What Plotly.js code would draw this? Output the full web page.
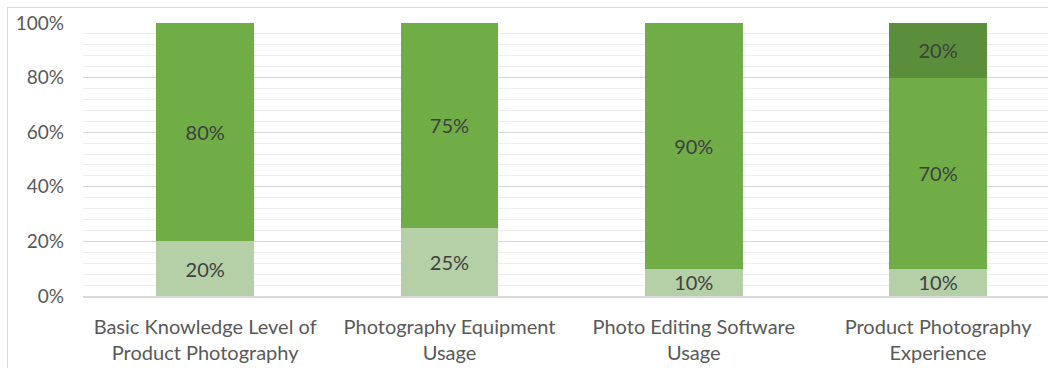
<!DOCTYPE html>
<html>
<head>
<meta charset="utf-8">
<script src="https://cdn.plot.ly/plotly-3.0.1.min.js"></script>
<style>
  html, body { margin: 0; padding: 0; background: #fff; overflow: hidden; }
  #chart { width: 1048px; height: 374px; position: relative; }
  #frame { position: absolute; left: 7px; top: 7px; width: 1100px; height: 360px;
           border-left: 1px solid #d9d9d9; border-top: 1px solid #d9d9d9; pointer-events: none; }
</style>
</head>
<body>
<div id="chart"></div>
<div id="frame"></div>
<script>
const categories = [
  "Basic Knowledge Level of<br>Product Photography",
  "Photography Equipment<br>Usage",
  "Photo Editing Software<br>Usage",
  "Product Photography<br>Experience"
];
const seriesLow = [20, 25, 10, 10];
const seriesMid = [80, 75, 90, 70];
const seriesHigh = [null, null, null, 20];

const colors = ["#b5d0a7", "#70ad47", "#5a8e3a"];
const common = {
  type: "bar",
  x: categories,
  texttemplate: "%{y}",
  textposition: "inside",
  insidetextanchor: "middle",
  constraintext: "none",
  textfont: { family: "Lato, 'Open Sans', sans-serif", size: 20, color: "#404040" },
  hoverinfo: "none",
  cliponaxis: false
};
const data = [
  Object.assign({}, common, { y: seriesLow, marker: { color: colors[0] }, name: "Low" }),
  Object.assign({}, common, { y: seriesMid, marker: { color: colors[1] }, name: "Mid" }),
  Object.assign({}, common, { y: seriesHigh, marker: { color: colors[2] }, name: "High" })
];

const layout = {
  width: 1048, height: 374,
  margin: { l: 83, r: 0, t: 23, b: 78, pad: 0 },
  barmode: "stack",
  bargap: 0.6,
  showlegend: false,
  paper_bgcolor: "#fff",
  plot_bgcolor: "#fff",
  font: { family: "Lato, 'Open Sans', sans-serif", color: "#595959" },
  xaxis: {
    type: "category",
    range: [-0.5, 3.45],
    showgrid: false,
    showline: true,
    linecolor: "#d9d9d9",
    linewidth: 2,
    ticks: "",
    tickfont: { size: 20, color: "#595959" },
    ticklabelstandoff: 12,
    fixedrange: true
  },
  yaxis: {
    range: [0, 100],
    dtick: 20,
    ticksuffix: "%",
    showgrid: true,
    gridcolor: "#d9d9d9",
    gridwidth: 1,
    zeroline: false,
    tickfont: { size: 19, color: "#595959" },
    ticklabelstandoff: 18,
    minor: { dtick: 4, showgrid: true, gridcolor: "#eeeeee", gridwidth: 1 },
    fixedrange: true
  }
};

Plotly.newPlot("chart", data, layout, { displayModeBar: false, staticPlot: true });
</script>
</body>
</html>
